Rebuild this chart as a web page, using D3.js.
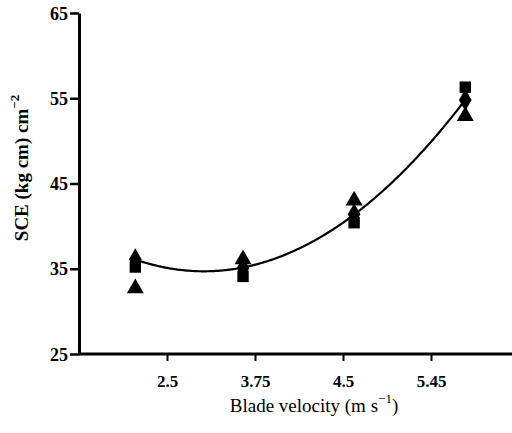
<!DOCTYPE html>
<html>
<head>
<meta charset="utf-8">
<script src="https://cdn.jsdelivr.net/npm/d3@7"></script>
<style>
  body { margin: 0; background: #fff; }
  text { font-family: "Liberation Serif", "DejaVu Serif", serif; fill: #000; }
</style>
</head>
<body>
<div id="chart"></div>
<script>
// blade velocity of each sample (m s-1)
const velocity = [2.05, 3.58, 4.62, 5.82];
// SCE values for the three series
const squares = [35.2, 34.1, 40.4, 56.3];
const diamonds = [36.1, 35.1, 41.4, 54.8];
const triangles = [32.7, 36.1, 43.0, 52.9];
const xTicks = [2.5, 3.75, 4.5, 5.45];
const xTickLabels = ["2.5", "3.75", "4.5", "5.45"];
const yTicks = [25, 35, 45, 55, 65];

const W = 512, H = 433;
const margin = {top: 13, right: 0, bottom: 79, left: 79};
const width = W - margin.left - margin.right,
    height = H - margin.top - margin.bottom;

const svg = d3.select("#chart").append("svg")
    .attr("width", W).attr("height", H)
  .append("g")
    .attr("transform", "translate(" + margin.left + "," + margin.top + ")");

// tick spacing is even but the values are not, so piecewise scale
const x = d3.scaleLinear()
    .domain(xTicks)
    .range([88, 176, 264, 352]);
const y = d3.scaleLinear()
    .domain([25, 65])
    .range([height, 0]);

// x axis
const xAxis = svg.append("g")
    .attr("transform", `translate(0,${height})`)
    .call(d3.axisBottom(x).tickValues(xTicks).tickFormat((d, i) => xTickLabels[i])
        .tickSize(7).tickSizeOuter(0).tickPadding(14));
xAxis.select(".domain").attr("stroke-width", 3).attr("d", `M0,0H${width}`);
xAxis.selectAll(".tick line").attr("stroke-width", 2);
xAxis.selectAll("text").attr("font-size", 17).attr("font-weight", "bold");

// y axis
const yAxis = svg.append("g")
    .call(d3.axisLeft(y).tickValues(yTicks).tickSize(9).tickSizeOuter(0).tickPadding(2));
yAxis.select(".domain").attr("stroke-width", 3);
yAxis.selectAll(".tick line").attr("stroke-width", 2.5);
yAxis.selectAll("text").attr("font-size", 18).attr("font-weight", "bold").attr("dy", "0.34em");

// quadratic fit of the diamond (mean) series, in screen x
const px = velocity.map(v => x(v));
function quadFit(xs, ys) {
    let n = xs.length, s = [0, 0, 0, 0, 0], t = [0, 0, 0];
    xs.forEach((xv, i) => {
        for (let k = 0; k < 5; k++) s[k] += Math.pow(xv, k);
        for (let k = 0; k < 3; k++) t[k] += Math.pow(xv, k) * ys[i];
    });
    const A = [[s[0], s[1], s[2]], [s[1], s[2], s[3]], [s[2], s[3], s[4]]];
    const b = t.slice();
    for (let i = 0; i < 3; i++) {
        for (let j = i + 1; j < 3; j++) {
            const f = A[j][i] / A[i][i];
            for (let k = i; k < 3; k++) A[j][k] -= f * A[i][k];
            b[j] -= f * b[i];
        }
    }
    const c = [0, 0, 0];
    for (let i = 2; i >= 0; i--) {
        let sum = b[i];
        for (let k = i + 1; k < 3; k++) sum -= A[i][k] * c[k];
        c[i] = sum / A[i][i];
    }
    return c;
}
const cf = quadFit(px, diamonds);
const fitPts = d3.range(px[0], px[3] + 0.5, 2).map(xx => [xx, cf[0] + cf[1] * xx + cf[2] * xx * xx]);
svg.append("path")
    .datum(fitPts)
    .attr("fill", "none")
    .attr("stroke", "#000")
    .attr("stroke-width", 2.2)
    .attr("d", d3.line().x(d => d[0]).y(d => y(d[1])).curve(d3.curveBasis));

// markers
function drawSeries(vals, type, size) {
    svg.append("g").selectAll("path")
        .data(vals)
        .join("path")
        .attr("transform", (d, i) => `translate(${x(velocity[i])},${y(d)})`)
        .attr("d", d3.symbol().type(type).size(size))
        .attr("fill", "#000");
}
drawSeries(squares, d3.symbolSquare, 130);
drawSeries(triangles, d3.symbolTriangle, 125);
drawSeries(diamonds, d3.symbolDiamond, 140);

// axis titles
const yl = svg.append("text")
    .attr("text-anchor", "middle")
    .attr("transform", `translate(${28 - margin.left},${168 - margin.top}) rotate(-90)`)
    .attr("font-size", 19)
    .attr("font-weight", "bold");
yl.append("tspan").text("SCE (kg cm) cm");
yl.append("tspan").attr("font-size", 13).attr("dy", -9).text("\u22122");

const xl = svg.append("text")
    .attr("text-anchor", "middle")
    .attr("x", 314 - margin.left)
    .attr("y", 412 - margin.top)
    .attr("font-size", 19);
xl.append("tspan").text("Blade velocity (m s");
xl.append("tspan").attr("font-size", 13).attr("dy", -9).text("\u22121");
xl.append("tspan").attr("dy", 9).text(")");
</script>
</body>
</html>
